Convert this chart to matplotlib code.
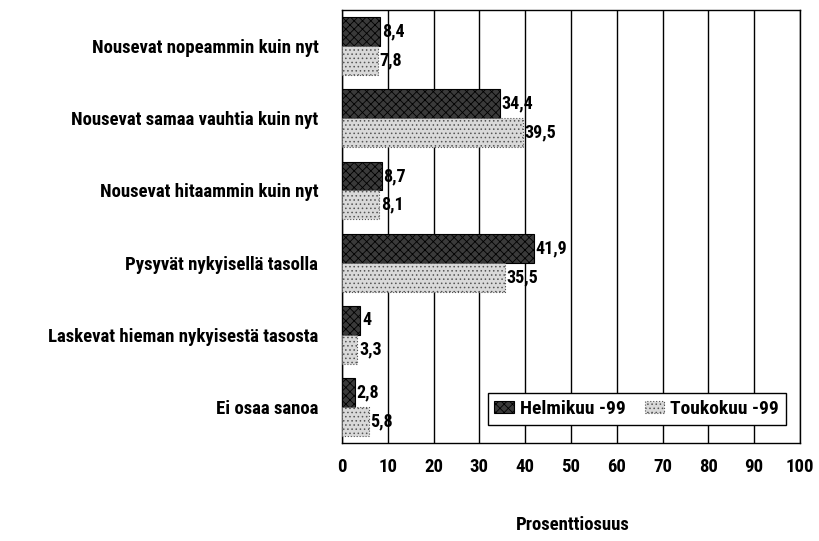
import matplotlib
matplotlib.use("Agg")
import matplotlib.pyplot as plt
import numpy as np
from matplotlib import font_manager

categories = ["Nousevat nopeammin kuin nyt", "Nousevat samaa vauhtia kuin nyt",
              "Nousevat hitaammin kuin nyt", "Pysyvät nykyisellä tasolla",
              "Laskevat hieman nykyisestä tasosta", "Ei osaa sanoa"]
helmikuu = [8.4, 34.4, 8.7, 41.9, 4, 2.8]
toukokuu = [7.8, 39.5, 8.1, 35.5, 3.3, 5.8]
xticks = [0, 10, 20, 30, 40, 50, 60, 70, 80, 90, 100]

names = sorted({f.name for f in font_manager.fontManager.ttflist})
fam = None
for cand in ["Liberation Sans Narrow", "DejaVu Sans Condensed", "Roboto Condensed", "Open Sans Condensed"]:
    if cand in names:
        fam = cand
        break
if fam is None:
    fam = "Liberation Sans"
plt.rcParams['font.family'] = [fam, "DejaVu Sans"]
plt.rcParams['hatch.linewidth'] = 0.6

fig = plt.figure(figsize=(8.2, 5.41), dpi=100)
ax = fig.add_axes([0.417, 0.181, 0.5586, 0.8005])

y = np.arange(len(categories))
h = 0.4
plt.rcParams['hatch.color'] = '#9a9a9a'
b1 = ax.barh(y - h/2, helmikuu, height=h, color='#3a3a3a', edgecolor='black', hatch='xxxx', lw=0.8, zorder=3, label='Helmikuu -99')
b2 = ax.barh(y + h/2, toukokuu, height=h, color='#d9d9d9', edgecolor='#555555', hatch='....', lw=0.8, ls=':', zorder=3, label='Toukokuu -99')
for i in range(len(categories)):
    ax.text(helmikuu[i] + 0.4, y[i] - h/2, f"{helmikuu[i]:g}".replace('.', ','), va='center', ha='left', fontsize=13, fontweight='bold', zorder=4)
    ax.text(toukokuu[i] + 0.4, y[i] + h/2, f"{toukokuu[i]:g}".replace('.', ','), va='center', ha='left', fontsize=13, fontweight='bold', zorder=4)

ax.set_xlim(0, 100)
ax.set_ylim(len(categories) - 0.5, -0.5)
ax.set_xticks(xticks)
ax.set_xticklabels([str(t) for t in xticks], fontsize=13.5, fontweight='bold')
ax.set_yticks(y)
ax.set_yticklabels(categories, fontsize=13.5, fontweight='bold')
ax.tick_params(length=0)
ax.tick_params(axis='x', pad=11)
ax.tick_params(axis='y', pad=17)
ax.xaxis.grid(True, color='black', lw=1)
ax.set_axisbelow(True)
for s in ax.spines.values():
    s.set_color('black')
    s.set_linewidth(1)
fig.text(0.698, 0.03, "Prosenttiosuus", ha='center', va='center', fontsize=13.5, fontweight='bold')

leg = ax.legend(loc='lower right', bbox_to_anchor=(0.99, 0.02), ncol=2, frameon=True, fancybox=False,
                prop={'weight': 'bold', 'size': 14}, handlelength=1.0, handleheight=0.6,
                handletextpad=0.3, columnspacing=1.0, borderpad=0.35)
leg.get_frame().set_edgecolor('black')
leg.get_frame().set_linewidth(1)
leg.get_frame().set_alpha(1)
leg.set_zorder(5)

fig.savefig("out.png", dpi=100)
